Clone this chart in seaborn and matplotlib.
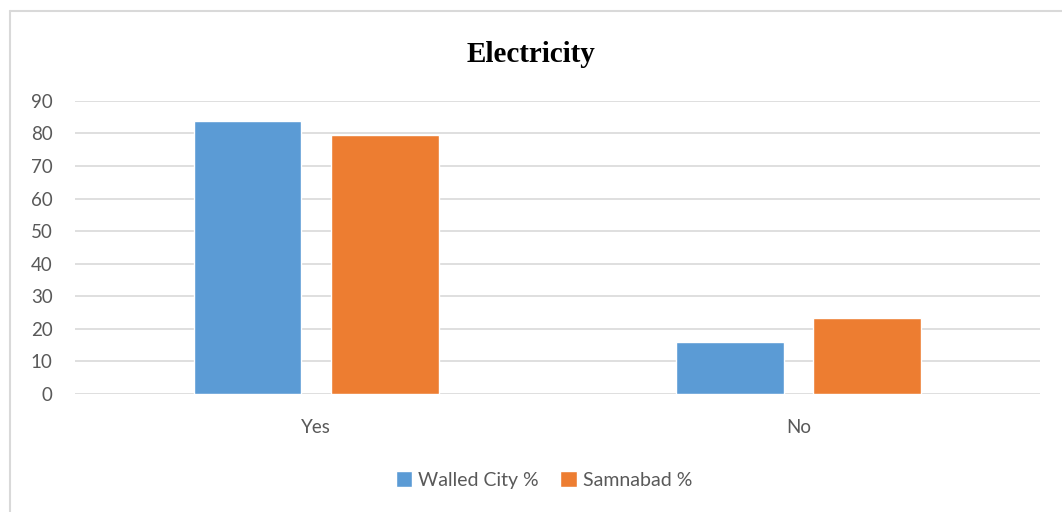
import matplotlib
matplotlib.use("Agg")
import matplotlib.pyplot as plt
import seaborn as sns
import pandas as pd
from matplotlib.lines import Line2D

# Survey responses on access to electricity (percent of households)
categories = ["Yes", "No"]
series_names = ["Walled City %", "Samnabad %"]
walled_city = [83.8, 16.0]
samnabad = [79.6, 23.2]
y_ticks = [0, 10, 20, 30, 40, 50, 60, 70, 80, 90]

df = pd.DataFrame({
    "Response": categories * 2,
    "Series": [series_names[0]] * len(categories) + [series_names[1]] * len(categories),
    "Percent": walled_city + samnabad,
})

sns.set_theme(style="white")
plt.rcParams["font.family"] = ["Lato", "DejaVu Sans"]

fig = plt.figure(figsize=(10.62, 5.12), dpi=100)
ax = fig.add_axes([0.0706, 0.2305, 0.9085, 0.5725])

palette = {series_names[0]: "#5B9BD5", series_names[1]: "#ED7D31"}
sns.barplot(data=df, x="Response", y="Percent", hue="Series", order=categories,
            hue_order=series_names, palette=palette, width=0.569, gap=0.215,
            saturation=1, ax=ax, legend=True)

ax.set_ylim(0, 90)
ax.set_xlim(-0.5, 1.5)
ax.set_yticks(y_ticks)
ax.set_xlabel("")
ax.set_ylabel("")
ax.yaxis.grid(True, color="#D9D9D9", linewidth=1.2)
ax.set_axisbelow(True)
for s in ax.spines.values():
    s.set_visible(False)
ax.tick_params(axis="both", length=0, labelsize=13.5, colors="#595959")
ax.tick_params(axis="y", pad=16)
ax.tick_params(axis="x", pad=18)

# Legend centred below the plot area
handles, labels = ax.get_legend_handles_labels()
ax.get_legend().remove()
fig.legend(handles, labels, loc="center", bbox_to_anchor=(544 / 1062, 1 - 480 / 512),
           ncol=2, frameon=False, fontsize=14, handlelength=0.85, handleheight=0.85,
           handletextpad=0.3, columnspacing=1.1, labelcolor="#595959")

fig.text(0.5, 1 - 54 / 512, "Electricity", ha="center", va="center",
         fontsize=21, fontweight="bold", family="Liberation Serif", color="black")

# Chart frame along the top and left edges
fig.add_artist(Line2D([10 / 1062, 1], [1 - 11 / 512, 1 - 11 / 512],
                      transform=fig.transFigure, color="#D9D9D9", linewidth=1.5))
fig.add_artist(Line2D([10 / 1062, 10 / 1062], [0, 1 - 11 / 512],
                      transform=fig.transFigure, color="#D9D9D9", linewidth=1.5))

fig.savefig("out.png", dpi=100, facecolor="white")
